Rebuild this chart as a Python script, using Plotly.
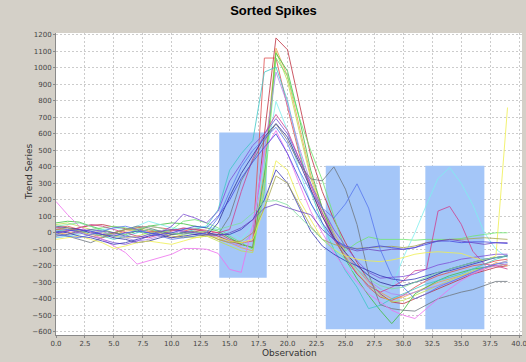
import plotly.graph_objects as go

obs = list(range(40))

# highlighted windows (observation range, value range)
win_x0 = [14.1, 23.3, 31.9]
win_x1 = [18.2, 29.7, 37.0]
win_y0 = [-272, -585, -585]
win_y1 = [608, 406, 406]

series = {
    "A": [20, 15, 30, 45, 50, 35, 25, 20, 10, 5, 15, 25, 20, 5,
          -20, -50, -70, -90, 600, 1182, 1110, 780, 470, 250,
          80, -60, -180, -290, -370, -420, -430, -400, -370, -340, -310, -280, -250, -230, -210, -200],
    "B": [30, 40, 20, 10, -10, 0, 20, 30, 40, 30, 20, 10, 25, 15,
          0, -40, -60, -50, 1060, 1060, 760, 480, 260, 100,
          -40, -150, -250, -330, -390, -410, -380, -330, -290, -260, -240, -220, -200, -190, -170, -160],
    "C": [-10, 0, 10, -20, -30, -10, 10, 20, 10, -20, -30, -10, 10, 0,
          -40, -60, -90, -110, 400, 1120, 950, 650, 350, 150,
          0, -120, -220, -300, -360, -400, -390, -360, -330, -300, -280, -260, -240, -220, -180, -200],
    "D": [50, 60, 40, 20, 0, -20, -30, -20, 0, 10, 0, -20, -30, -20,
          -50, -80, -110, -120, 300, 1100, 920, 620, 330, 130,
          -20, -140, -240, -320, -380, -420, -410, -380, -350, -320, -290, -260, -230, -210, -190, -170],
    "E": [60, 70, 65, 40, 20, 0, -10, 10, 40, 50, 60, 55, 40, 30,
          10, -30, -70, -90, 350, 1090, 980, 700, 380, 150,
          -20, -160, -280, -380, -470, -551, -470, -370, -330, -290, -260, -240, -220, -210, -200, -190],
    "F": [-20, -10, 0, 20, 30, 40, 30, 10, -10, 0, 20, 70, 80, 60,
          30, -20, -60, -100, 250, 1060, 950, 700, 500, 320,
          100, -110, -60, -25, -40, -40, -40, -45, -40, -40, -40, -35, -20, -10, 0, 0],
    "G": [10, 20, 10, 0, -20, -40, -20, 0, 20, 10, -10, 0, 20, 40,
          140, 380, 480, 560, 975, 1005, 800, 500, 250, 60,
          -100, -230, -330, -460, -440, -400, -370, -340, -310, -290, -270, -250, -220, -190, -160, -140],
    "H": [-30, -20, 0, 10, 0, -10, -30, -50, -40, -20, 0, 10, 0, -10,
          -30, -60, -80, 0, 500, 975, 780, 520, 300, 120,
          -20, -130, -220, -290, -340, -370, -380, -360, -340, -320, -300, -270, -240, -210, -190, -170],
    "I": [-30, -20, -10, 10, 20, 30, 20, 40, 70, 50, 30, 20, 30, 40,
          20, 0, -40, 50, 400, 797, 620, 380, 180, 40,
          -80, -180, -260, -320, -350, -330, -150, 0, 170, 330, 395, 300, 170, 0, -100, -150],
    "J": [0, 10, 30, 50, 40, 20, 0, -20, -30, -10, 10, 30, 20, 10,
          0, 20, 250, 450, 600, 718, 620, 450, 280, 120,
          -30, -150, -250, -320, -360, -330, -290, -230, -222, 132, 160, 52, -112, -190, -200, -220],
    "K": [30, 20, 0, -20, -40, -60, -70, -50, -20, 0, 40, 113, 90, 60,
          130, 315, 420, 530, 600, 693, 600, 450, 300, 150,
          20, -80, -170, -240, -275, -270, -265, -250, -220, -195, -180, -160, -150, -140, -130, -130],
    "L": [40, 30, 20, 0, -10, -30, -40, -60, -50, -30, -10, 0, -10, -20,
          60, 220, 360, 470, 580, 663, 580, 430, 260, 100,
          -30, -120, -200, -260, -300, -320, -320, -300, -280, -250, -220, -200, -180, -160, -150, -140],
    "M": [0, -20, -40, -60, -30, 0, 20, 40, 30, 10, -10, 0, 10, -10,
          -10, 100, 315, 437, 560, 660, 560, 420, 327, 315,
          400, 265, 50, -250, -436, -460, -470, -475, -440, -400, -380, -360, -345, -320, -295, -295],
    "N": [190, 110, 40, 0, -40, -80, -120, -190, -170, -150, -130, -95, -95, -100,
          -125, -222, -240, 50, 500, 620, 480, 300, 130, 0,
          -120, -220, -300, -370, -420, -470, -500, -520, -460, -400, -340, -290, -250, -220, -200, -190],
    "O": [-40, -30, -20, -40, -60, -95, -80, -60, -50, -60, -70, -50, -30, -20,
          -30, -50, -60, -40, 150, 437, 380, 200, 80, -40,
          -100, -140, -160, -170, -175, -165, -150, -130, -120, -115, -120, -125, -150, -170, -140, 760],
    "P": [10, 0, -20, -30, -50, -70, -60, -40, -20, -10, -30, -20, -10, 0,
          -10, -10, 20, 80, 200, 382, 300, 150, 10, -80,
          -130, -170, -200, -230, -260, -280, -290, -280, -260, -240, -230, -210, -190, -170, -150, -140],
    "Q": [20, 30, 10, -10, -20, 0, 20, 30, 20, 0, -20, -30, -20, -10,
          -40, -60, -50, 0, 150, 345, 300, 170, 40, -40,
          -70, -90, -95, -90, -85, -82, -90, -80, -60, -50, -40, -40, -35, -30, -35, -40],
    "R": [40, 50, 60, 40, 10, -20, -10, 20, 40, 30, 0, -10, 0, 10,
          20, 40, 60, 120, 190, 195, 170, 100, 30, -40,
          -100, -160, -220, -280, -320, -340, -330, -300, -270, -240, -220, -200, -180, -160, -150, -140],
    "S": [-20, -10, 10, 20, 10, 0, -20, -30, -10, 10, 20, 10, 0, -10,
          -20, 0, 30, 80, 150, 174, 150, 130, 110, 20,
          -40, -90, -110, -100, -110, -100, -100, -90, -60, -50, -40, -50, -60, -70, -60, -60],
    "T": [-10, -20, -30, -10, 10, 30, 40, 20, 0, -20, -40, -30, -20, 0,
          90, 250, 400, 500, 570, 640, 540, 380, 250, 150,
          90, 175, 297, 150, -100, -260, -330, -400, -370, -330, -300, -270, -240, -210, -190, -180],
    "U": [0, 10, 20, 10, -10, -20, 0, 10, 0, -10, 0, 20, 40, 30,
          100, 200, 330, 430, 520, 600, 480, 330, 180, 60,
          -40, -80, -100, -90, -80, -90, -100, -90, -70, -50, -50, -60, -55, -55, -60, -65],
}

colors = {
    "A": "#c03040", "B": "#e05050", "C": "#f0a050", "D": "#c0e050", "E": "#40c040",
    "F": "#70e870", "G": "#40c8c8", "H": "#b088f0", "I": "#80f0f0", "J": "#d04090",
    "K": "#8050d8", "L": "#303098", "M": "#707880", "N": "#f070f0", "O": "#f0f050",
    "P": "#3838b8", "Q": "#a8a850", "R": "#80e0a0", "S": "#7048c0", "T": "#5878f0",
    "U": "#4848e0",
}

fig = go.Figure()

for x0, x1, y0, y1 in zip(win_x0, win_x1, win_y0, win_y1):
    fig.add_trace(go.Scatter(
        x=[x0, x1, x1, x0, x0], y=[y0, y0, y1, y1, y0],
        mode="lines", fill="toself", fillcolor="rgb(164,198,248)",
        line=dict(width=0), hoverinfo="skip", showlegend=False))

for name, vals in series.items():
    fig.add_trace(go.Scatter(
        x=obs, y=vals, mode="lines", name=name, showlegend=False,
        line=dict(color=colors[name], width=1), opacity=0.8))

axis_common = dict(
    showgrid=True, gridcolor="#cccccc", griddash="2px,2px", gridwidth=1,
    zeroline=False, showline=True, linecolor="#8a8a8a", linewidth=1, mirror=False,
    ticks="outside", ticklen=2, tickcolor="#8a8a8a", automargin=False,
    ticklabeloverflow="allow",
    tickfont=dict(family="DejaVu Sans", size=7, color="#444444"),
)

fig.update_layout(
    width=526, height=362,
    margin=dict(l=56, r=4, t=33, b=27),
    paper_bgcolor="#d4d0c8", plot_bgcolor="white",
    title=dict(text="<b>Sorted Spikes</b>", xref="container", x=0.52, xanchor="center",
               yref="container", y=0.972, yanchor="middle",
               font=dict(family="Liberation Sans", size=13, color="black")),
    xaxis=dict(range=[0, 40.25], tick0=0, dtick=2.5, tickformat=".1f", **axis_common),
    yaxis=dict(range=[-620, 1212], tick0=0, dtick=100, **axis_common),
    annotations=[
        dict(text="Trend Series", xref="paper", yref="paper", x=-0.058, y=0.54,
             xanchor="center", yanchor="middle", textangle=-90, showarrow=False,
             font=dict(family="DejaVu Sans", size=9, color="#333")),
        dict(text="Observation", xref="paper", yref="paper", x=0.5, y=-0.038,
             xanchor="center", yanchor="top", showarrow=False,
             font=dict(family="DejaVu Sans", size=9, color="#333")),
    ],
)

fig.write_html("out.html", config={"displayModeBar": False},
               post_script="document.body.style.margin='0';")
